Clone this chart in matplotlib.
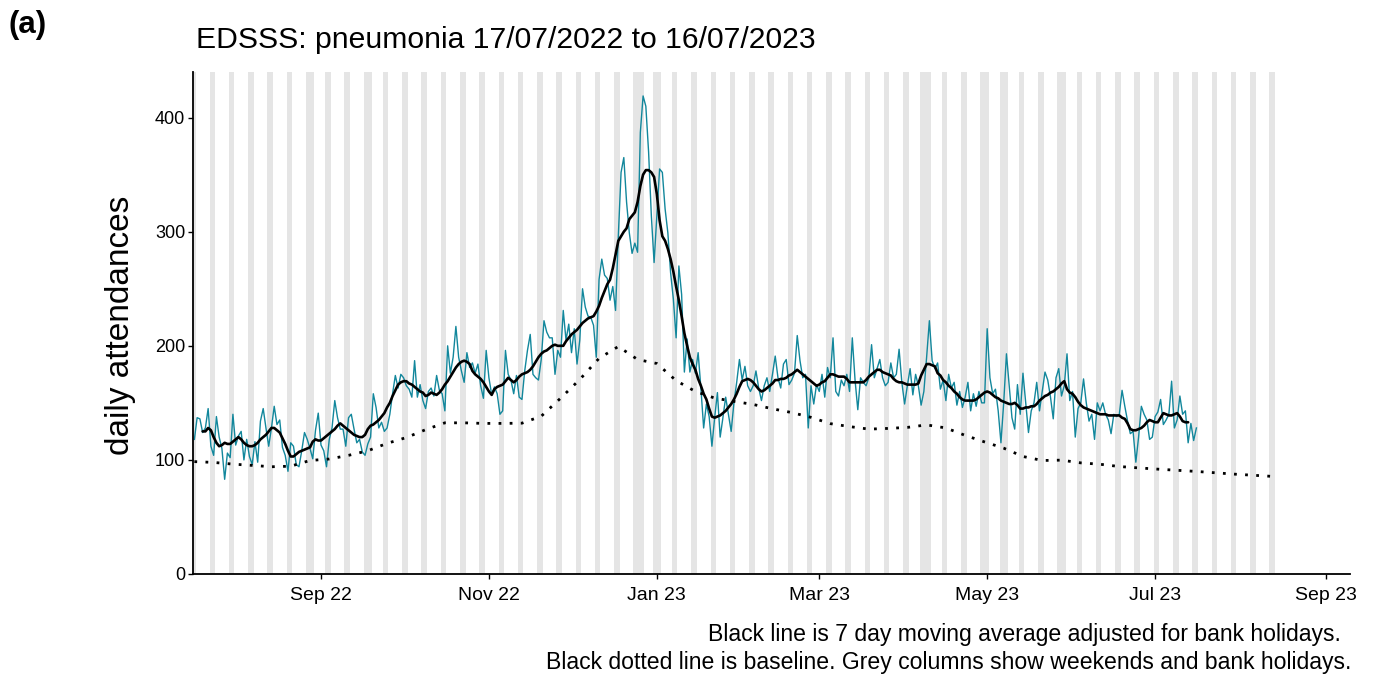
import matplotlib
matplotlib.use("Agg")
import matplotlib.pyplot as plt
import matplotlib.dates as mdates
from datetime import date, timedelta

plt.rcParams['font.family'] = ['Liberation Sans', 'DejaVu Sans']

# ---------------- data ----------------
daily_start = date(2022, 7, 17)
daily_counts = [
    118, 137, 136, 124, 128, 145, 112,
    104, 138, 120, 110, 83, 106, 102,
    140, 113, 121, 125, 100, 118, 103,
    96, 116, 98, 134, 145, 128, 112,
    128, 147, 131, 135, 111, 104, 90,
    115, 112, 96, 94, 108, 124, 118,
    110, 101, 126, 141, 113, 108, 94,
    118, 128, 152, 137, 127, 127, 112,
    137, 140, 127, 115, 118, 107, 104,
    114, 120, 158, 146, 128, 133, 125,
    128, 140, 158, 174, 163, 175, 172,
    165, 162, 155, 187, 155, 166, 152,
    145, 160, 163, 156, 174, 161, 158,
    143, 200, 176, 190, 217, 190, 178,
    168, 194, 181, 185, 176, 184, 165,
    154, 196, 172, 157, 164, 158, 140,
    143, 196, 175, 170, 158, 174, 155,
    153, 178, 196, 210, 175, 172, 170,
    188, 222, 212, 207, 207, 175, 196,
    190, 231, 205, 219, 194, 215, 184,
    205, 250, 234, 226, 225, 218, 190,
    258, 276, 262, 259, 240, 252, 231,
    296, 352, 365, 326, 299, 281, 290,
    282, 387, 419, 410, 370, 314, 273,
    314, 355, 352, 320, 299, 264, 241,
    207, 270, 245, 177, 206, 177, 188,
    176, 194, 163, 128, 149, 138, 112,
    137, 159, 120, 137, 155, 140, 125,
    150, 168, 188, 170, 182, 165, 160,
    165, 178, 163, 152, 165, 172, 160,
    175, 191, 172, 163, 184, 188, 166,
    170, 176, 209, 187, 172, 175, 128,
    165, 149, 166, 160, 175, 155, 181,
    172, 207, 160, 156, 170, 165, 175,
    160, 207, 170, 144, 172, 168, 165,
    172, 201, 172, 180, 188, 172, 165,
    168, 185, 172, 175, 197, 168, 149,
    165, 180, 157, 175, 165, 148, 160,
    190, 222, 187, 180, 185, 162, 170,
    152, 175, 163, 168, 148, 160, 146,
    155, 168, 143, 158, 147, 160, 150,
    150, 215, 172, 158, 162, 143, 115,
    150, 193, 165, 137, 127, 166, 140,
    176, 150, 124, 143, 150, 168, 143,
    160, 177, 170, 155, 136, 172, 180,
    156, 165, 193, 152, 160, 120, 145,
    150, 171, 150, 134, 140, 118, 150,
    143, 150, 140, 135, 123, 140, 138,
    140, 161, 147, 134, 123, 125, 98,
    120, 147, 140, 135, 118, 120, 138,
    142, 153, 131, 135, 140, 169, 128,
    135, 156, 140, 143, 115, 132, 117,
    128,
]

ma_start = date(2022, 7, 20)
moving_avg = [
    125, 125, 128, 126, 120, 115, 112, 113, 115, 114,
    114, 116, 118, 120, 118, 115, 113, 112, 112, 113,
    115, 118, 120, 122, 125, 128, 128, 126, 124, 119,
    114, 108, 103, 103, 105, 107, 108, 109, 110, 111,
    116, 118, 117, 117, 119, 121, 123, 125, 127, 130,
    132, 130, 128, 126, 124, 122, 121, 120, 120, 122,
    127, 130, 131, 133, 135, 138, 141, 146, 150, 156,
    161, 166, 168, 169, 169, 167, 166, 164, 162, 160,
    159, 156, 157, 159, 158, 157, 159, 162, 166, 169,
    173, 177, 181, 184, 186, 187, 186, 184, 178, 175,
    173, 171, 168, 164, 160, 157, 162, 164, 165, 166,
    169, 172, 170, 168, 170, 173, 175, 176, 177, 179,
    182, 186, 190, 193, 195, 196, 198, 200, 201, 200,
    200, 200, 204, 207, 210, 212, 214, 217, 220, 222,
    224, 225, 226, 230, 235, 242, 248, 254, 258, 268,
    280, 292, 296, 300, 303, 311, 314, 317, 326, 340,
    350, 354, 354, 352, 348, 333, 310, 296, 292, 285,
    276, 265, 252, 240, 226, 211, 200, 190, 184, 179,
    171, 165, 158, 153, 145, 138, 137, 138, 139, 141,
    143, 146, 149, 153, 158, 164, 169, 170, 171, 170,
    168, 165, 162, 160, 161, 163, 165, 167, 170, 170,
    171, 171, 172, 174, 175, 177, 179, 177, 175, 173,
    171, 169, 167, 165, 166, 168, 169, 172, 175, 175,
    174, 173, 173, 173, 171, 168, 168, 168, 168, 168,
    168, 170, 173, 175, 177, 179, 179, 177, 176, 175,
    174, 171, 169, 168, 168, 167, 166, 166, 166, 166,
    167, 174, 179, 184, 184, 183, 182, 176, 174, 170,
    168, 165, 163, 160, 158, 155, 153, 152, 152, 152,
    152, 153, 155, 157, 159, 160, 159, 157, 155, 154,
    152, 151, 150, 149, 149, 150, 148, 145, 145, 146,
    146, 147, 147, 149, 152, 154, 156, 157, 159, 160,
    162, 164, 167, 169, 162, 159, 158, 155, 151, 148,
    146, 145, 144, 143, 142, 141, 140, 140, 140, 139,
    139, 139, 139, 139, 137, 136, 132, 127, 126, 126,
    127, 128, 130, 133, 135, 134, 133, 133, 137, 141,
    140, 139, 139, 140, 141, 138, 134, 133, 133,
]

baseline_start = date(2022, 7, 17)
baseline_weekly = [
    98.5, 97.8, 96.3, 95.2, 94.0, 94.5, 99.5, 100.8, 104.0, 108.0,
    114.5, 119.6, 126.5, 132.5, 132.5, 132.0, 132.0, 132.2, 138.3, 154.0,
    170.5, 189.0, 199.4, 188.0, 184.5, 169.5, 160.0, 154.2, 151.3, 148.6,
    144.8, 141.5, 137.3, 131.8, 129.2, 127.0, 127.6, 128.5, 130.7, 128.0,
    121.5, 115.8, 110.3, 103.0, 99.5, 99.8, 97.4, 96.2, 94.2, 93.0,
    91.9, 90.9, 89.9, 88.7, 87.5, 86.5, 85.5,
]

bank_holidays = [
    date(2022, 8, 29), date(2022, 9, 19), date(2022, 12, 26), date(2022, 12, 27),
    date(2023, 1, 2), date(2023, 4, 7), date(2023, 4, 10), date(2023, 5, 1),
    date(2023, 5, 8), date(2023, 5, 29),
]
grey_start = date(2022, 7, 17)
grey_end = date(2023, 8, 13)

title = "EDSSS: pneumonia 17/07/2022 to 16/07/2023"
ylabel = "daily attendances"
caption1 = "Black line is 7 day moving average adjusted for bank holidays."
caption2 = "Black dotted line is baseline. Grey columns show weekends and bank holidays."

# ---------------- derived dates ----------------
daily_dates = [daily_start + timedelta(days=i) for i in range(len(daily_counts))]
ma_dates = [ma_start + timedelta(days=i) for i in range(len(moving_avg))]
baseline_dates = [baseline_start + timedelta(days=7 * i) for i in range(len(baseline_weekly))]

grey_days = []
d = grey_start
while d <= grey_end:
    if d.weekday() >= 5 or d in bank_holidays:
        grey_days.append(d)
    d += timedelta(days=1)

# ---------------- figure ----------------
W, H = 1376, 679
fig = plt.figure(figsize=(W / 100, H / 100), dpi=100)
ax = fig.add_axes([193 / W, (H - 574) / H, (1350 - 193) / W, (574 - 72) / H])

for gd in grey_days:
    c = mdates.date2num(gd)
    ax.axvspan(c - 0.5, c + 0.5, color='#e5e5e5', lw=0, zorder=0)

ax.plot(daily_dates, daily_counts, color='#12879c', lw=1.0, zorder=2)
ax.plot(ma_dates, moving_avg, color='black', lw=1.9, zorder=3,
        solid_joinstyle='round', solid_capstyle='round')
ax.plot(baseline_dates, baseline_weekly, color='black', lw=2.0, zorder=3,
        linestyle=(0, (1, 3)), dash_capstyle='butt')

ax.set_xlim(mdates.date2num(date(2022, 7, 16)) + 0.5, mdates.date2num(date(2023, 9, 9)) + 0.8)
ax.set_ylim(0, 440)
ax.set_yticks([0, 100, 200, 300, 400])
ax.xaxis.set_major_locator(mdates.MonthLocator(bymonth=[1, 3, 5, 7, 9, 11]))
ax.xaxis.set_major_formatter(mdates.DateFormatter('%b %y'))

for s in ['top', 'right']:
    ax.spines[s].set_visible(False)
for s in ['left', 'bottom']:
    ax.spines[s].set_linewidth(1.3)
ax.tick_params(axis='both', length=3.5, width=1.0, colors='black')
ax.tick_params(axis='x', pad=6, labelsize=14)
ax.tick_params(axis='y', pad=2, labelsize=13)

fig.text(8 / W, 1 - 25 / H, "(a)", fontsize=22.5, fontweight='bold', ha='left', va='center')
fig.text(196 / W, 1 - 40 / H, title, fontsize=21.7, ha='left', va='center')
fig.text(121 / W, 1 - 325 / H, ylabel, fontsize=24, rotation=90, ha='center', va='center')
fig.text(1341 / W, 1 - 635 / H, caption1, fontsize=16.6, ha='right', va='center')
fig.text(1351 / W, 1 - 662 / H, caption2, fontsize=16.6, ha='right', va='center')

fig.savefig("out.png", dpi=100)
